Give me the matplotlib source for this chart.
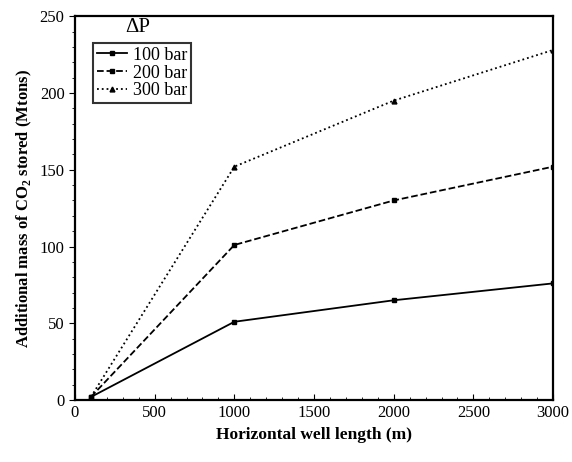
import matplotlib.pyplot as plt
from matplotlib.ticker import MultipleLocator

plt.rcParams['font.family'] = ['Liberation Serif', 'DejaVu Serif']

# data
well_length = [100, 1000, 2000, 3000]
mass_100 = [2, 51, 65, 76]
mass_200 = [2, 101, 130, 152]
mass_300 = [2, 152, 195, 228]

fig = plt.figure(figsize=(5.72, 4.62), dpi=100)
ax = fig.add_axes([0.131, 0.134, 0.836, 0.831])

ax.plot(well_length, mass_100, '-', color='black', lw=1.3, marker='s', ms=3.5, label='100 bar')
ax.plot(well_length, mass_200, '--', color='black', lw=1.3, marker='s', ms=3.5, label='200 bar')
ax.plot(well_length, mass_300, ':', color='black', lw=1.3, marker='^', ms=3.5, label='300 bar')

ax.set_xlim(0, 3000)
ax.set_ylim(0, 250)
ax.xaxis.set_major_locator(MultipleLocator(500))
ax.xaxis.set_minor_locator(MultipleLocator(100))
ax.yaxis.set_major_locator(MultipleLocator(50))
ax.yaxis.set_minor_locator(MultipleLocator(10))
ax.tick_params(axis='x', which='both', direction='in', labelsize=12)
ax.tick_params(axis='y', which='both', direction='out', labelsize=12)
ax.tick_params(which='major', length=4)
ax.tick_params(which='minor', length=2.5)
for s in ax.spines.values():
    s.set_linewidth(1.6)

ax.set_xlabel('Horizontal well length (m)', fontsize=12.5, fontweight='bold')
ax.set_ylabel('Additional mass of CO$_\\mathregular{2}$ stored (Mtons)', fontsize=12, fontweight='bold')

leg = ax.legend(loc='upper left', bbox_to_anchor=(0.038, 0.93), fontsize=13, frameon=True,
                fancybox=False, edgecolor='black', handlelength=1.7, borderpad=0.2,
                labelspacing=0.05, handletextpad=0.3, borderaxespad=0)
leg.get_frame().set_linewidth(1.5)
ax.text(0.132, 0.945, '\u0394P', transform=ax.transAxes, ha='center', va='bottom', fontsize=15)

plt.savefig('out.png', dpi=100)
